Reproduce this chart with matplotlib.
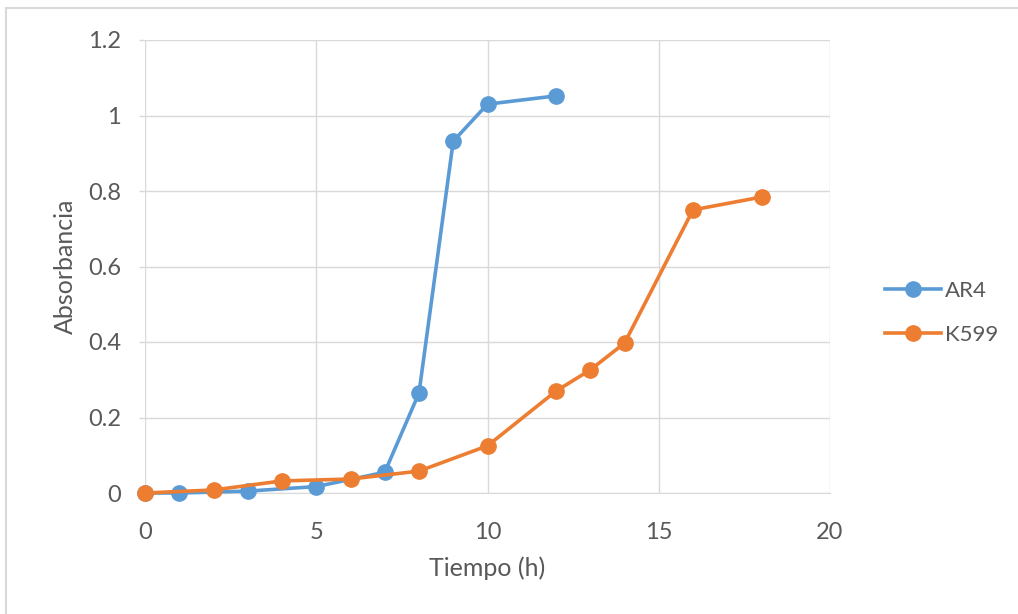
import matplotlib
matplotlib.use("Agg")
import matplotlib.pyplot as plt
from matplotlib.patches import Rectangle

ar4_t = [0, 1, 3, 5, 7, 8, 9, 10, 12]
ar4_abs = [0.0, 0.0, 0.005, 0.017, 0.055, 0.265, 0.932, 1.03, 1.052]
k599_t = [0, 2, 4, 6, 8, 10, 12, 13, 14, 16, 18]
k599_abs = [0.0, 0.008, 0.032, 0.037, 0.058, 0.125, 0.27, 0.326, 0.397, 0.75, 0.784]
x_ticks = [0, 5, 10, 15, 20]
y_ticks = [0, 0.2, 0.4, 0.6, 0.8, 1.0, 1.2]
y_tick_labels = ["0", "0.2", "0.4", "0.6", "0.8", "1", "1.2"]

plt.rcParams['font.family'] = ['Lato', 'DejaVu Sans']
W, H = 1018, 614
fig = plt.figure(figsize=(W / 100, H / 100), dpi=100)
fig.patches.append(Rectangle((6 / W, -0.1), 1.2, 1 - 8 / H + 0.1, transform=fig.transFigure,
                             fill=False, edgecolor='#d9d9d9', linewidth=1.5))
ax = fig.add_axes([145 / W, 1 - 493 / H, (830 - 145) / W, (493 - 40) / H])

blue = '#5B9BD5'
orange = '#ED7D31'
ax.plot(ar4_t, ar4_abs, color=blue, lw=2.6, marker='o', ms=11, label='AR4', zorder=3, clip_on=False)
ax.plot(k599_t, k599_abs, color=orange, lw=2.6, marker='o', ms=11, label='K599', zorder=4, clip_on=False)

ax.set_xlim(0, 20)
ax.set_ylim(0, 1.2)
ax.set_xticks(x_ticks)
ax.set_yticks(y_ticks)
ax.set_yticklabels(y_tick_labels)
ax.grid(True, color='#d9d9d9', lw=1)
ax.set_axisbelow(True)
for s in ['top', 'right', 'left']:
    ax.spines[s].set_visible(False)
ax.spines['bottom'].set_color('#d9d9d9')
ax.tick_params(axis='x', length=0, labelsize=17, colors='#595959', pad=21)
ax.tick_params(axis='y', length=4.3, width=1, color='#d9d9d9', labelsize=17,
               labelcolor='#595959', pad=13)
ax.set_xlabel('Tiempo (h)', fontsize=18, color='#595959')
ax.set_ylabel('Absorbancia', fontsize=18, color='#595959')
ax.xaxis.set_label_coords(0.5, -(568 - 493) / (493 - 40), transform=ax.transAxes)
ax.xaxis.label.set_va('center')
ax.yaxis.set_label_coords(-(145 - 65) / (830 - 145), 0.5, transform=ax.transAxes)
ax.yaxis.label.set_va('center')

leg = fig.legend(loc='center left', bbox_to_anchor=(885 / W, 1 - 313 / H), frameon=False,
                 fontsize=16, labelcolor='#595959', handlelength=2.5, labelspacing=1.1,
                 handletextpad=0.2, borderpad=0, borderaxespad=0)
fig.savefig('out.png', dpi=100, facecolor='white')
